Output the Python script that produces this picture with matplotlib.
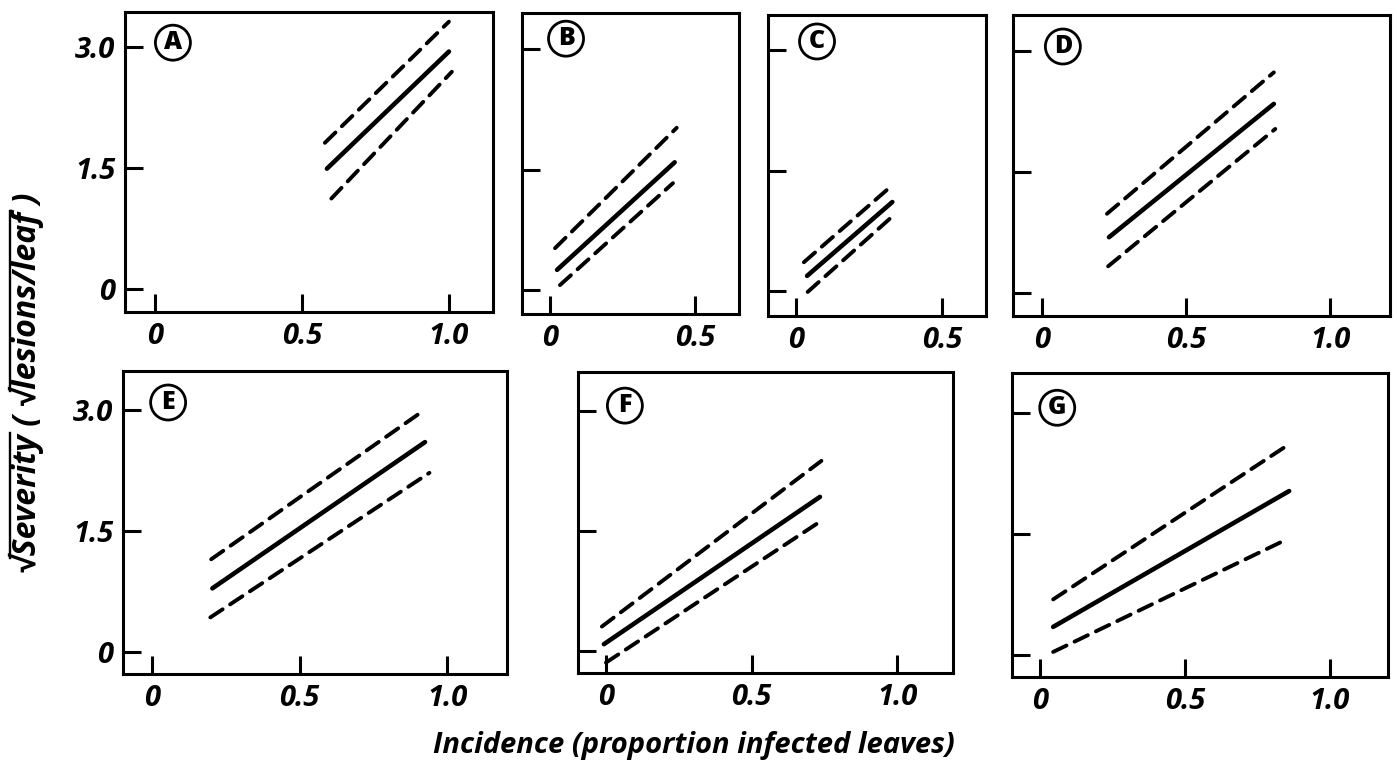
import matplotlib
matplotlib.use("Agg")
import matplotlib.pyplot as plt
from matplotlib.font_manager import FontProperties
from matplotlib.lines import Line2D

# ---- data ----
panels = ["A", "B", "C", "D", "E", "F", "G"]
# fitted line (solid): x start/end, y start/end
fit_x = {"A": [0.585, 1.00], "B": [0.024, 0.43], "C": [0.038, 0.33], "D": [0.233, 0.805],
         "E": [0.204, 0.925], "F": [-0.007, 0.735], "G": [0.045, 0.859]}
fit_y = {"A": [1.49, 2.94], "B": [0.25, 1.59], "C": [0.19, 1.11], "D": [0.69, 2.34],
         "E": [0.79, 2.60], "F": [0.09, 1.93], "G": [0.35, 2.03]}
# upper confidence band (dashed)
up_x = {"A": [0.578, 1.00], "B": [0.017, 0.437], "C": [0.027, 0.33], "D": [0.226, 0.805],
        "E": [0.200, 0.920], "F": [-0.014, 0.740], "G": [0.045, 0.855]}
up_y = {"A": [1.81, 3.31], "B": [0.52, 2.02], "C": [0.36, 1.32], "D": [0.98, 2.73],
        "E": [1.15, 2.99], "F": [0.31, 2.38], "G": [0.69, 2.60]}
# lower confidence band (dashed)
lo_x = {"A": [0.600, 1.01], "B": [0.034, 0.424], "C": [0.040, 0.33], "D": [0.230, 0.81],
        "E": [0.197, 0.940], "F": [0.000, 0.735], "G": [0.045, 0.855]}
lo_y = {"A": [1.12, 2.69], "B": [0.06, 1.33], "C": [-0.01, 0.93], "D": [0.33, 2.03],
        "E": [0.43, 2.22], "F": [-0.14, 1.62], "G": [0.04, 1.44]}

x_ticks_long = [0, 0.5, 1.0]
x_labels_long = ["0", "0.5", "1.0"]
x_ticks_short = [0, 0.5]
x_labels_short = ["0", "0.5"]
y_ticks = [0, 1.5, 3.0]
y_labels = ["0", "1.5", "3.0"]

xlabel = "Incidence (proportion infected leaves)"
ylabel = "√Severity ( √lesions/leaf )"
# parts of the y label that carry the radical's overline
overlined = [("√", "√Severity"), ("√Severity ( √", "√Severity ( √lesions/leaf")]

# ---- layout (pixels) ----
W, H = 1397, 765
layout = {
    "A": (125, 493, 12, 312, (-0.102, 1.150), (-0.285, 3.43)),
    "B": (522, 739, 13, 314, (-0.097, 0.652), (-0.30, 3.45)),
    "C": (768, 986, 15, 316, (-0.096, 0.651), (-0.31, 3.44)),
    "D": (1013, 1390, 15, 316, (-0.100, 1.208), (-0.285, 3.44)),
    "E": (123, 507, 371, 674, (-0.099, 1.203), (-0.27, 3.48)),
    "F": (578, 953, 372, 673, (-0.096, 1.192), (-0.27, 3.49)),
    "G": (1012, 1388, 373, 677, (-0.097, 1.200), (-0.27, 3.49)),
}
letter_pos = {"A": (0.061, 3.05), "B": (0.055, 3.13), "C": (0.072, 3.11), "D": (0.073, 3.05),
              "E": (0.054, 3.09), "F": (0.065, 3.07), "G": (0.059, 3.06)}

FONT = "Open Sans"
plt.rcParams["font.family"] = [FONT, "DejaVu Sans"]
plt.rcParams["font.weight"] = "bold"
plt.rcParams["font.style"] = "italic"

fig = plt.figure(figsize=(W / 100, H / 100), dpi=100)

for p in panels:
    l, r, t, b, xl, yl = layout[p]
    ax = fig.add_axes([l / W, 1 - b / H, (r - l) / W, (b - t) / H])
    ax.set_xlim(*xl)
    ax.set_ylim(*yl)
    for s in ax.spines.values():
        s.set_linewidth(2.2)
    ax.plot(fit_x[p], fit_y[p], color="black", lw=3.3, solid_capstyle="round")
    for xs, ys in ((up_x[p], up_y[p]), (lo_x[p], lo_y[p])):
        ax.plot(xs, ys, color="black", lw=2.8, dashes=(3.8, 2.3), dash_capstyle="round")
    if p in ("B", "C"):
        ax.set_xticks(x_ticks_short)
        ax.set_xticklabels(x_labels_short)
    else:
        ax.set_xticks(x_ticks_long)
        ax.set_xticklabels(x_labels_long)
    ax.set_yticks(y_ticks)
    if p in ("A", "E"):
        ax.set_yticklabels(y_labels)
    else:
        ax.set_yticklabels([])
    ax.tick_params(axis="both", direction="in", length=13, width=2.2, labelsize=21)
    ax.tick_params(axis="x", pad=7)
    ax.tick_params(axis="y", pad=7)
    for lab in ax.get_xticklabels() + ax.get_yticklabels():
        lab.set_fontweight("bold")
        lab.set_fontstyle("italic")
    lx, ly = letter_pos[p]
    ax.text(lx, ly, p, ha="center", va="center", fontsize=18, fontweight="heavy",
            fontstyle="normal",
            bbox=dict(boxstyle="circle,pad=0.2", fc="white", ec="black", lw=2.0))

fig.text(694 / W, 1 - 745 / H, xlabel, ha="center", va="center", fontsize=21,
         fontweight="bold", fontstyle="italic")

prop = FontProperties(family=[FONT, "DejaVu Sans"], weight="bold", style="italic", size=23)
yt = fig.text(26 / W, 1 - 383 / H, ylabel, ha="center", va="center", rotation=90,
              fontproperties=prop)
fig.canvas.draw()
rend = fig.canvas.get_renderer()


def text_w(s):
    return rend.get_text_width_height_descent(s, prop, ismath=False)[0]


bb = yt.get_window_extent(rend)
x_line = bb.x0 + 1.5
for pre, seg in overlined:
    y0 = bb.y0 + text_w(pre) - 2
    y1 = bb.y0 + text_w(seg) + 1
    fig.add_artist(Line2D([x_line / W, x_line / W], [y0 / H, y1 / H],
                          transform=fig.transFigure, color="black", lw=1.7))

fig.savefig("out.png", dpi=100, facecolor="white")
